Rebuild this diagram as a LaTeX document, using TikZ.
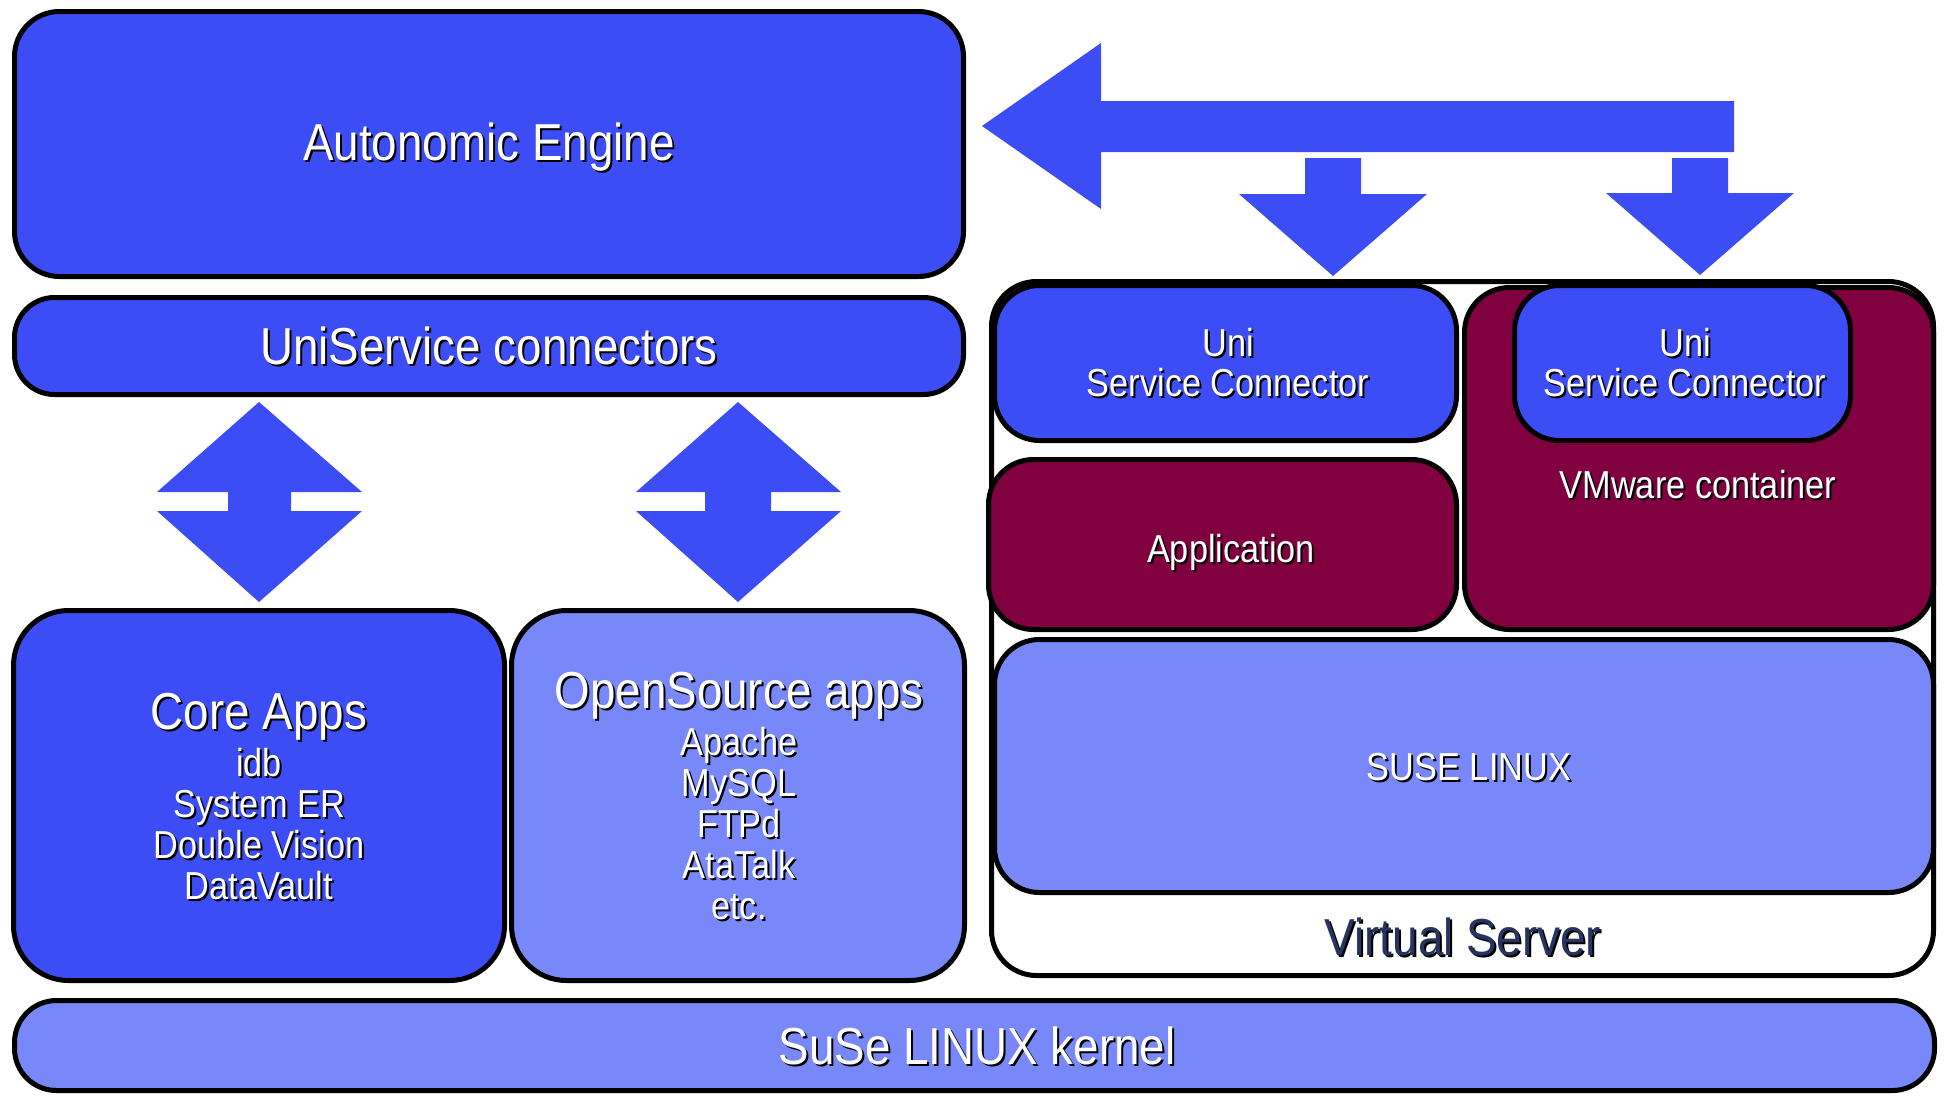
\documentclass[tikz,border=0pt]{standalone}
\usepackage{fontspec}
\setmainfont{Liberation Sans}[FakeStretch=0.88]
\definecolor{cblue}{RGB}{61,77,245}
\definecolor{clight}{RGB}{120,136,248}
\definecolor{cmaroon}{RGB}{128,0,64}
\definecolor{cnavy}{RGB}{40,52,96}
\newcommand\FtBig{\fontsize{52}{56}\selectfont}
\newcommand\FtMid{\fontsize{39}{41}\selectfont}
\newcommand\FtUsc{\fontsize{39}{40}\selectfont}
\newcommand\FtKer{\fontsize{52}{56}\selectfont}
\newcommand{\stext}[6][white]{%
  \node[font=#5, text=black, align=center, inner sep=0pt, xshift=2pt, yshift=-2pt] at (#3,#4) {#6};
  \node[font=#5, text=#1, align=center, inner sep=0pt] (#2) at (#3,#4) {#6};}
\tikzset{
  box/.style={draw=black, line width=5pt, inner sep=0pt, outer sep=0pt, rounded corners=#1},
  box/.default=45pt,
  blockarrow/.style={fill=cblue, draw=none}
}
\begin{document}
\begin{tikzpicture}[x=1pt, y=-1pt]
\useasboundingbox (0,0) rectangle (1944,1096);
\fill[white] (0,0) rectangle (1944,1096);

% left column
\node[box, fill=cblue, minimum width=949pt, minimum height=265pt] (auto) at (489,144) {};
\node[box=40pt, fill=cblue, minimum width=949pt, minimum height=97pt] (uni) at (489,346) {};
\node[box=55pt, fill=cblue, minimum width=491pt, minimum height=370pt] (core) at (259,795.5) {};
\node[box=55pt, fill=clight, minimum width=453pt, minimum height=370pt] (open) at (738,795.5) {};

% kernel
\node[box=42pt, fill=clight, minimum width=1920pt, minimum height=90pt] (kernel) at (974.5,1045.5) {};

% virtual server
\node[box, fill=white, minimum width=942pt, minimum height=694pt] (vs) at (1462.5,628.5) {};
\node[box, fill=clight, minimum width=939pt, minimum height=253pt] (suse) at (1464,766) {};
\node[box, fill=cmaroon, minimum width=468pt, minimum height=170pt] (app) at (1222.5,544.5) {};
\node[box, fill=cmaroon, minimum width=469pt, minimum height=342pt] (vm) at (1699,458.5) {};
\node[box, fill=cblue, minimum width=462pt, minimum height=155pt] (usc1) at (1225.5,363) {};
\node[box, fill=cblue, minimum width=336pt, minimum height=155pt] (usc2) at (1682.5,363) {};

% block arrows
\fill[blockarrow] (982,126) -- (1101,43) -- (1101,101) -- (1734,101) -- (1734,152) -- (1101,152) -- (1101,209) -- cycle;
\fill[blockarrow] (1305,158) -- (1361,158) -- (1361,194) -- (1427,194) -- (1333,276) -- (1239,194) -- (1305,194) -- cycle;
\fill[blockarrow] (1672,158) -- (1728,158) -- (1728,193) -- (1794,193) -- (1700,275) -- (1606,193) -- (1672,193) -- cycle;
\fill[blockarrow] (259,402) -- (362,492) -- (291,492) -- (291,511) -- (362,511) -- (259,602) -- (157,511) -- (228,511) -- (228,492) -- (157,492) -- cycle;
\fill[blockarrow] (738,402) -- (841,492) -- (771,492) -- (771,511) -- (841,511) -- (738,602) -- (636,511) -- (705,511) -- (705,492) -- (636,492) -- cycle;

% texts
\stext{tauto}{489}{147}{\FtBig}{Autonomic Engine}
\stext{tuni}{489}{346}{\FtBig}{UniService connectors}
\stext{tcore}{259}{717}{\FtBig}{Core Apps}
\stext{tcorel}{259}{824}{\FtMid}{idb\\System ER\\Double Vision\\DataVault}
\stext{topen}{739}{696}{\FtBig}{OpenSource apps}
\stext{topenl}{739}{824}{\FtMid}{Apache\\MySQL\\FTPd\\AtaTalk\\etc.}
\stext{tusc1}{1228}{363}{\FtUsc}{Uni\\Service Connector}
\stext{tusc2}{1685}{363}{\FtUsc}{Uni\\Service Connector}
\stext{tvm}{1698}{485}{\FtMid}{VMware container}
\stext{tapp}{1231}{552}{\FtMid}{Application}
\stext{tsuse}{1469}{767}{\FtMid}{SUSE LINUX}
\stext[cnavy]{tvs}{1463}{937}{\FtBig}{Virtual Server}
\stext{tker}{977}{1046}{\FtKer}{SuSe LINUX kernel}
\end{tikzpicture}
\end{document}
